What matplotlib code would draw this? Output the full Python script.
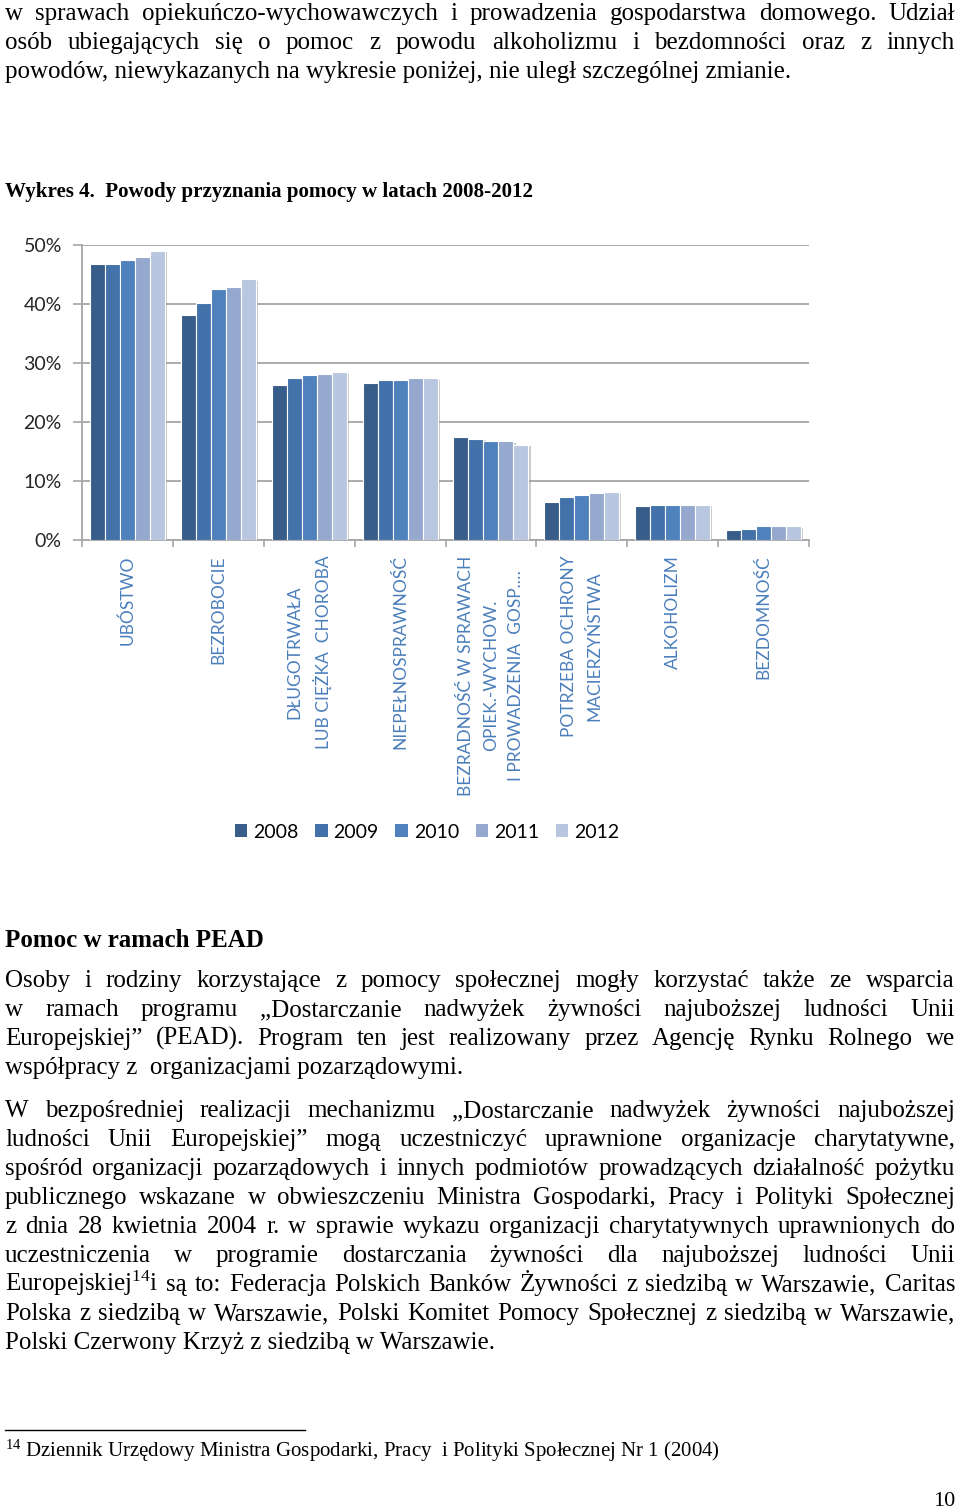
import matplotlib
matplotlib.use("Agg")
import matplotlib.pyplot as plt
import matplotlib.patheffects as pe
from matplotlib.patches import Patch
import numpy as np

plt.rcParams["font.family"] = ["Liberation Serif", "DejaVu Serif"]
plt.rcParams["mathtext.fontset"] = "custom"
plt.rcParams["mathtext.rm"] = "Liberation Serif"
plt.rcParams["mathtext.default"] = "regular"

# dane wykresu (udzial w %)
categories = ["UBÓSTWO", "BEZROBOCIE", "DŁUGOTRWAŁA\nLUB CIĘŻKA  CHOROBA",
              "NIEPEŁNOSPRAWNOŚĆ",
              "BEZRADNOŚĆ W SPRAWACH\nOPIEK.-WYCHOW.\nI PROWADZENIA  GOSP.…",
              "POTRZEBA OCHRONY\nMACIERZYŃSTWA", "ALKOHOLIZM", "BEZDOMNOŚĆ"]
years = ["2008", "2009", "2010", "2011", "2012"]
v2008 = [46.7, 38.1, 26.2, 26.6, 17.4, 6.5, 5.7, 1.7]
v2009 = [46.7, 40.2, 27.4, 27.1, 17.2, 7.35, 6.0, 1.9]
v2010 = [47.4, 42.6, 27.9, 27.1, 16.7, 7.6, 6.0, 2.3]
v2011 = [47.9, 42.9, 28.2, 27.4, 16.7, 7.9, 6.0, 2.3]
v2012 = [49.0, 44.2, 28.4, 27.4, 16.1, 8.1, 6.0, 2.3]
series = [v2008, v2009, v2010, v2011, v2012]
colors = ["#385D8A", "#4372AA", "#4F81BD", "#95A9CF", "#B9C6E0"]

W, H = 960, 1509
fig = plt.figure(figsize=(W / 100, H / 100), dpi=100)
renderer = fig.canvas.get_renderer()


def fy(y):
    return 1 - y / H


def text_line(s, y, size=18, weight="normal", justify=True, x0=5, x1=955):
    # tekst wyjustowany: slowa rozmieszczone recznie
    if not justify:
        fig.text(x0 / W, fy(y), s, fontsize=size, fontweight=weight,
                 va="baseline", ha="left")
        return
    words = s.split()
    while True:
        objs = [fig.text(0, fy(y), w, fontsize=size, fontweight=weight,
                         va="baseline", ha="left") for w in words]
        widths = [o.get_window_extent(renderer).width for o in objs]
        gap = (x1 - x0 - sum(widths)) / (len(words) - 1)
        if gap >= 4:
            break
        for o in objs:
            o.remove()
        size *= 0.98
    x = x0
    for o, w in zip(objs, widths):
        o.set_x(x / W)
        x += w + gap


# tekst nad wykresem
text_line("w sprawach opiekuńczo-wychowawczych i prowadzenia gospodarstwa domowego. Udział", 20)
text_line("osób ubiegających się o pomoc z powodu alkoholizmu i bezdomności oraz z innych", 49)
text_line("powodów, niewykazanych na wykresie poniżej, nie uległ szczególnej zmianie.", 78, justify=False)

text_line("Wykres 4.  Powody przyznania pomocy w latach 2008-2012", 197, size=15.1,
          weight="bold", justify=False)

# wykres
ax = fig.add_axes([82 / W, fy(540), (809 - 82) / W, (540 - 245) / H])
x = np.arange(len(categories))
bw = 0.165
for j, (vals, c) in enumerate(zip(series, colors)):
    ax.bar(x + (j - 2) * bw, vals, width=bw, color=c, edgecolor="white",
           linewidth=0.8, zorder=3, label=years[j],
           path_effects=[pe.SimplePatchShadow(offset=(1.5, -1), shadow_rgbFace="#8c8c8c", alpha=0.45),
                         pe.Normal()])

ax.set_xlim(-0.5, len(categories) - 0.5)
ax.set_ylim(0, 50)
ax.set_yticks(np.arange(0, 51, 10))
ax.set_yticklabels([f"{v}%" for v in range(0, 51, 10)], fontfamily="Lato",
                   fontsize=14, color="#262626")
ax.yaxis.grid(True, color="#A6A6A6", linewidth=1.3, zorder=0)
ax.set_axisbelow(True)
for s in ["top", "right"]:
    ax.spines[s].set_visible(False)
for s in ["left", "bottom"]:
    ax.spines[s].set_color("#A6A6A6")
    ax.spines[s].set_linewidth(1.3)
ax.tick_params(axis="y", length=6.5, width=1.2, color="#A6A6A6", pad=8)
ax.set_xticks(x)
ax.set_xticklabels(categories, rotation=90, fontfamily="Lato", fontsize=12.5,
                   color="#4A7EBB", multialignment="center", linespacing=1.7)
ax.set_xticks(np.arange(-0.5, len(categories)), minor=True)
ax.tick_params(axis="x", which="major", length=0, pad=11)
ax.tick_params(axis="x", which="minor", length=5, width=1.2, color="#A6A6A6")

handles = [Patch(facecolor=c, edgecolor="none") for c in colors]
fig.legend(handles, years, loc="center", bbox_to_anchor=(427 / W, fy(832)),
           ncol=5, frameon=False, prop={"family": "Lato", "size": 14},
           handlelength=0.65, handleheight=0.65, handletextpad=0.3,
           columnspacing=0.85)

# tekst pod wykresem
text_line("Pomoc w ramach PEAD", 947, size=18, weight="bold", justify=False)

text_line("Osoby i rodziny korzystające z pomocy społecznej mogły korzystać także ze wsparcia", 987)
text_line("w ramach programu „Dostarczanie nadwyżek żywności najuboższej ludności Unii", 1016)
text_line("Europejskiej” (PEAD). Program ten jest realizowany przez Agencję Rynku Rolnego we", 1045)
text_line("współpracy z  organizacjami pozarządowymi.", 1074, justify=False)

text_line("W bezpośredniej realizacji mechanizmu „Dostarczanie nadwyżek żywności najuboższej", 1117)
text_line("ludności Unii Europejskiej” mogą uczestniczyć uprawnione organizacje charytatywne,", 1146)
text_line("spośród organizacji pozarządowych i innych podmiotów prowadzących działalność pożytku", 1175)
text_line("publicznego wskazane w obwieszczeniu Ministra Gospodarki, Pracy i Polityki Społecznej", 1204)
text_line("z dnia 28 kwietnia 2004 r. w sprawie wykazu organizacji charytatywnych uprawnionych do", 1233)
text_line("uczestniczenia w programie dostarczania żywności dla najuboższej ludności Unii", 1262)
text_line("Europejskiej$^{14}$i są to: Federacja Polskich Banków Żywności z siedzibą w Warszawie, Caritas", 1291)
text_line("Polska z siedzibą w Warszawie, Polski Komitet Pomocy Społecznej z siedzibą w Warszawie,", 1320)
text_line("Polski Czerwony Krzyż z siedzibą w Warszawie.", 1349, justify=False)

# przypis
fig.add_artist(plt.Line2D([5 / W, 305 / W], [fy(1430), fy(1430)], color="black", linewidth=1))
text_line("$^{14}$ Dziennik Urzędowy Ministra Gospodarki, Pracy  i Polityki Społecznej Nr 1 (2004)",
          1457, size=15, justify=False)
fig.text(955 / W, fy(1506), "10", fontsize=16, ha="right", va="baseline")

fig.savefig("out.png", dpi=100)
